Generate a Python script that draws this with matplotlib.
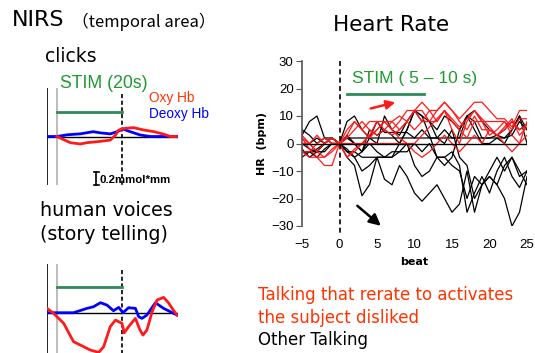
import numpy as np
import matplotlib
matplotlib.use('Agg')
import matplotlib.pyplot as plt

# ---- heart rate data (beat -5 .. 25) ----
beats = list(range(-5, 26))

red_series = [
    [2, 0, -3, -5, -3, 0, 5, 8, 5, 8, 8, 8, 5, 8, 12, 12, 15, 12, 12, 15, 12, 9, 12, 15, 15, 12, 9, 9, 6, 12, 12],
    [-3, -5, -5, -8, -8, 0, 3, 8, 5, 2, 5, 8, 8, 5, 8, 12, 8, 8, 8, 12, 8, 5, 2, 8, 8, 8, 8, 8, 5, 9, 9],
    [0, 0, 3, 0, 2, 0, 0, 0, 0, 0, 0, 0, 0, 0, 0, 0, 3, 6, 9, 12, 9, 6, 9, 12, 9, 6, 3, 6, 9, 3, 6],
    [3, 0, -3, 0, 2, 0, -5, -3, 0, 3, 5, 8, 5, 2, 0, -3, -5, -3, 0, 3, 0, -3, 0, 3, 0, 5, 3, 0, -3, 0, 3],
    [2, -2, -5, -5, -2, 0, 2, 5, 8, 5, 3, 5, 8, 10, 8, 12, 12, 8, 12, 15, 12, 8, 5, 10, 5, 5, 3, 5, 8, 5, 7],
    [-3, -3, 0, 2, 0, 0, -5, -2, 0, 3, 8, 5, 3, 5, 8, 5, 8, 12, 8, 12, 5, 0, 8, 12, 8, 3, 5, 8, 3, 0, 8],
]

black_series = [
    [3, 8, 10, 2, 0, 0, 8, 10, 5, 2, 0, 10, 5, 3, 8, 12, 10, 8, 2, 5, 2, 2, 2, 2, 2, 2, 3, 2, 5, 10, 0],
    [-5, -3, -2, 0, 2, 0, -5, -8, -19, -15, -5, -13, -15, -8, -12, -18, -21, -18, -15, -20, -25, -22, -10, -25, -15, -12, -15, -20, -30, -25, -12],
    [-3, -3, -5, -2, 0, 0, -3, -5, -10, -8, -5, -5, -5, -3, 0, -8, -12, -10, -5, -5, -8, -10, -20, -12, -15, -10, -5, -10, -5, -12, -10],
    [0, -2, -3, 0, 2, 0, 2, 0, -3, 5, 3, 5, 3, 0, 5, 12, 8, 8, 5, 10, 8, 5, 10, 12, 8, 5, 3, 5, 8, 5, 7],
    [-2, -5, -3, 0, 2, 0, 2, 2, 2, 2, 2, 2, 2, 2, 2, 2, 2, 2, 2, 2, 2, 2, 10, 8, 2, 2, 2, 2, 3, 8, 5],
    [0, 0, 2, 0, 2, 0, -2, -5, -3, 2, 8, 4, 4, 4, 4, 2, 5, 2, 2, 0, 5, -5, -8, -20, -15, -12, -15, -8, -5, -10, -15],
    [-3, -3, -3, -3, 0, 0, -3, -3, -5, -5, -5, -5, -3, -3, -3, 0, -3, 0, -5, -5, -3, -8, -25, -18, -12, -18, -10, -5, -12, -16, -10],
    [5, 3, 0, 2, 2, 0, 3, 0, -3, 0, -3, -5, -5, 0, 5, 12, 10, 3, -5, -8, -5, 5, 10, 5, 0, 0, 2, 0, 5, 10, 5],
]

# ---- NIRS data (time in s, concentration in mmol*mm) ----
clicks_oxy_t = [0, 4.1, 7.2, 9.2, 12.3, 16.3, 17.9, 18.9, 20.9, 23.5, 26.5, 29.6, 32.6, 34.7, 36.5]
clicks_oxy = [0, -0.095, -0.115, -0.095, -0.08, -0.056, 0.02, 0.1, 0.126, 0.136, 0.1, 0.075, 0.036, 0.0, 0.0]
clicks_deoxy_t = [-2.9, 0, 3.1, 7.2, 11.1, 13.3, 16.3, 18.4, 20.2, 22.4, 25.5, 28.5, 37]
clicks_deoxy = [0, 0, 0.026, 0.041, 0.074, 0.056, 0.04, 0.074, 0.115, 0.074, 0.023, 0, 0]

voice_oxy_t = [-3.0, -1.0, 2.1, 5.1, 8.2, 10.2, 12.8, 14.3, 16.3, 17.9, 19.9, 20.6, 21.9, 24.0,
               25.3, 26.3, 27.5, 29.1, 30.6, 32.6, 34.1, 35.2, 36.7]
voice_oxy = [0.067, -0.01, -0.164, -0.446, -0.523, -0.574, -0.61, -0.523, -0.215, -0.113, -0.164, -0.31,
             -0.215, -0.087, -0.256, -0.344, -0.267, 0.015, 0.195, 0.236, 0.154, 0.067, -0.036]
voice_deoxy_t = [-3.0, 5.1, 9.2, 11.2, 13.3, 15.3, 17.3, 18.9, 20.2, 21.9, 24.0, 25.0, 26.0, 27.5,
                 30.1, 32.6, 34.7, 36.7]
voice_deoxy = [0, 0, 0.067, 0.092, 0.154, 0.118, 0.031, 0.082, 0, 0.077, 0.067, -0.061, -0.087, -0.036,
               0.154, 0.067, 0.015, -0.036]

RED = '#ff1a1a'
GREEN = '#2e8b57'
W, H = 535, 353

fig = plt.figure(figsize=(W / 100, H / 100), dpi=100)

# ---------------- Heart rate panel ----------------
ax = fig.add_axes([302 / W, 1 - 226 / H, 225 / W, 165 / H])
for s in black_series:
    ax.plot(beats, s, color='black', lw=0.9)
for s in red_series:
    ax.plot(beats, s, color=RED, lw=0.9)
ax.axhline(0, color='black', lw=1.0)
ax.plot([0, 0], [30, -33], color='black', lw=1.2, ls=(0, (3, 2)), clip_on=False)
ax.plot([1, 11.2], [18, 18], color=GREEN, lw=2)
ax.text(1.6, 23.7, 'STIM ( 5 – 10 s)', color='#1e9a2e', fontsize=12.5, va='center',
        family='Liberation Sans')
ax.annotate('', xy=(7.8, 15.2), xytext=(3.8, 12.5),
            arrowprops=dict(arrowstyle='-|>', color=RED, lw=1.8, mutation_scale=13))
ax.annotate('', xy=(5.8, -30.6), xytext=(2.1, -22),
            arrowprops=dict(arrowstyle='-|>', color='black', lw=1.8, mutation_scale=17),
            annotation_clip=False)
ax.set_xlim(-5, 25)
ax.set_ylim(-30, 30)
ax.set_xticks(range(-5, 26, 5))
ax.set_yticks(range(-30, 31, 10))
ax.set_xticklabels(['−5'] + [str(v) for v in range(0, 26, 5)], family='Liberation Sans')
ax.set_yticklabels(['−30', '−20', '−10', '0', '10', '20', '30'], family='Liberation Sans')
for sp in ['top', 'right', 'bottom']:
    ax.spines[sp].set_visible(False)
ax.spines['left'].set_color('#555555')
ax.spines['left'].set_linewidth(1.2)
ax.tick_params(axis='y', direction='out', length=4, color='#555555', labelsize=9.5, pad=2)
ax.tick_params(axis='x', length=0, labelsize=9.5, pad=9)
ax.set_ylabel('HR  (bpm)', fontsize=8, fontweight='bold', labelpad=3)
ax.set_xlabel('beat', fontsize=8, fontweight='bold', labelpad=5)
ax.patch.set_alpha(0)

fig.text(391 / W, 1 - 25 / H, 'Heart Rate', fontsize=15.5, ha='center', va='center')

for txt, yy, col in [('Talking that rerate to activates', 295, '#ff3300'),
                     ('the subject disliked', 318, '#ff3300'),
                     ('Other Talking', 340, 'black')]:
    fig.text(258 / W, 1 - yy / H, txt, color=col, fontsize=12, va='center')

# ---------------- NIRS panels ----------------
fig.text(12 / W, 1 - 20 / H, 'NIRS', fontsize=16, va='center')
fig.text(72 / W, 1 - 22 / H, '（temporal area）', fontsize=12, va='center',
         family=['Noto Sans CJK JP', 'DejaVu Sans'])
fig.text(45 / W, 1 - 57 / H, 'clicks', fontsize=13.5, va='center')
fig.text(40 / W, 1 - 211 / H, 'human voices', fontsize=13.7, va='center')
fig.text(40 / W, 1 - 234 / H, '(story telling)', fontsize=13.7, va='center')


def nirs_panel(rect, ylim, oxy_t, oxy, deoxy_t, deoxy, bar_y):
    a = fig.add_axes(rect)
    a.set_xlim(-3, 37)
    a.set_ylim(*ylim)
    a.axis('off')
    a.axvline(-2.9, color='black', lw=1.2)
    a.axvline(0, color='#b0b0b0', lw=1.2)
    a.axhline(0, color='black', lw=1.0)
    a.plot([20, 20], [0.66, ylim[0]], color='black', lw=1.2, ls=(0, (2.5, 1.5)))
    a.plot([0, 19.8], [bar_y, bar_y], color=GREEN, lw=2)
    a.plot(deoxy_t, deoxy, color='#0000ff', lw=2)
    a.plot(oxy_t, oxy, color=RED, lw=2)
    return a


a1 = nirs_panel([47 / W, 1 - 185 / H, 131 / W, 97 / H], (-0.746, 0.746),
                clicks_oxy_t, clicks_oxy, clicks_deoxy_t, clicks_deoxy, 0.38)
a1.text(1.1, 0.82, 'STIM (20s)', color='#1e9a2e', fontsize=12.7, va='center',
        family='Liberation Sans', clip_on=False)
a1.text(28, 0.59, 'Oxy Hb', color='#ff3300', fontsize=9.8, va='center', family='Liberation Sans')
a1.text(28, 0.35, 'Deoxy Hb', color='#0000ff', fontsize=9.8, va='center', family='Liberation Sans')
a1.plot([12, 12], [-0.55, -0.75], color='black', lw=1.2, clip_on=False)
a1.plot([11.2, 12.8], [-0.55, -0.55], color='black', lw=1.2, clip_on=False)
a1.plot([11.2, 12.8], [-0.75, -0.75], color='black', lw=1.2, clip_on=False)
a1.text(13.1, -0.67, '0.2mmol*mm', fontsize=8.2, fontweight='bold', va='center',
        family='Liberation Sans')

a2 = nirs_panel([47 / W, 0, 131 / W, 89 / H], (-0.62, 0.75),
                voice_oxy_t, voice_oxy, voice_deoxy_t, voice_deoxy, 0.395)

fig.savefig('out.png', dpi=100)
